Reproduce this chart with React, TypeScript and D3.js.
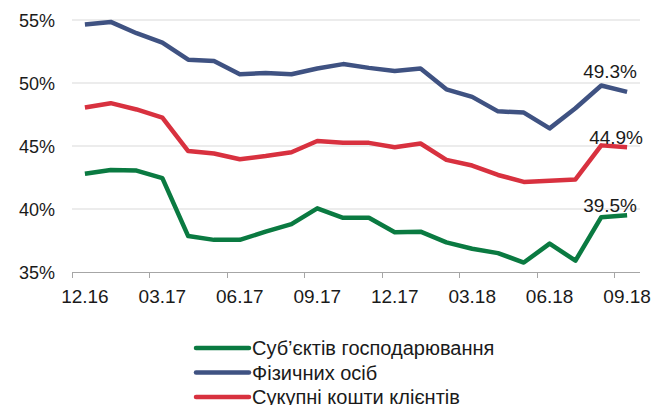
import React, { useEffect, useRef } from "react";
import * as d3 from "d3";

// months on the category axis
const months = [
  "12.16", "01.17", "02.17", "03.17", "04.17", "05.17", "06.17", "07.17", "08.17", "09.17", "10.17",
  "11.17", "12.17", "01.18", "02.18", "03.18", "04.18", "05.18", "06.18", "07.18", "08.18", "09.18",
];
const tickMonths = ["12.16", "03.17", "06.17", "09.17", "12.17", "03.18", "06.18", "09.18"];
const yTicks = [35, 40, 45, 50, 55];

const business = [
  42.8, 43.1, 43.05, 42.45, 37.85, 37.55, 37.55, 38.2, 38.8, 40.05, 39.3,
  39.3, 38.15, 38.2, 37.35, 36.85, 36.5, 35.75, 37.25, 35.9, 39.35, 39.5,
];
const individuals = [
  54.65, 54.85, 53.95, 53.2, 51.85, 51.75, 50.7, 50.8, 50.7, 51.15, 51.5,
  51.2, 50.95, 51.15, 49.5, 48.9, 47.75, 47.65, 46.4, 48.0, 49.8, 49.3,
];
const total = [
  48.05, 48.4, 47.9, 47.25, 44.6, 44.4, 43.95, 44.2, 44.5, 45.4, 45.25,
  45.25, 44.9, 45.2, 43.9, 43.45, 42.7, 42.15, 42.25, 42.35, 45.05, 44.9,
];

const seriesNames = ["Суб’єктів господарювання", "Фізичних осіб", "Сукупні кошти клієнтів"];
const lastLabels = ["39.5%", "49.3%", "44.9%"];

const COLORS = ["#0a7a41", "#3f5282", "#d8313f"];
const FONT = "'Liberation Sans', Arial, sans-serif";

export default function App() {
  const ref = useRef<SVGSVGElement | null>(null);

  useEffect(() => {
    const svg = d3.select(ref.current);
    svg.selectAll("*").remove();

    const left = 72, right = 640, top = 20, bottom = 272;

    const x = d3.scaleBand().domain(months).range([left, right]);
    const y = d3.scaleLinear().domain([35, 55]).range([bottom, top]);

    // gridlines
    svg.append("g")
      .selectAll("line")
      .data(yTicks.filter(d => d > 35))
      .enter()
      .append("line")
      .attr("x1", left)
      .attr("x2", right)
      .attr("y1", d => y(d))
      .attr("y2", d => y(d))
      .attr("stroke", "#d9d9d9")
      .attr("stroke-width", 1);

    // y labels
    svg.append("g")
      .selectAll("text")
      .data(yTicks)
      .enter()
      .append("text")
      .attr("x", 55)
      .attr("y", d => y(d) + 1)
      .attr("dy", "0.35em")
      .attr("text-anchor", "end")
      .style("font-family", FONT)
      .style("font-size", "18px")
      .attr("fill", "#1a1a1a")
      .text(d => d + "%");

    // x axis
    svg.append("line")
      .attr("x1", left)
      .attr("x2", right)
      .attr("y1", bottom + 0.5)
      .attr("y2", bottom + 0.5)
      .attr("stroke", "#a6a6a6");

    svg.append("g")
      .selectAll("line")
      .data(tickMonths)
      .enter()
      .append("line")
      .attr("x1", d => Math.round(x(d)!) + 0.5)
      .attr("x2", d => Math.round(x(d)!) + 0.5)
      .attr("y1", bottom)
      .attr("y2", bottom + 6)
      .attr("stroke", "#a6a6a6");

    svg.append("g")
      .selectAll("text")
      .data(tickMonths)
      .enter()
      .append("text")
      .attr("x", d => x(d)! + x.bandwidth() / 2)
      .attr("y", 303)
      .attr("text-anchor", "middle")
      .style("font-family", FONT)
      .style("font-size", "19px")
      .attr("fill", "#1a1a1a")
      .text(d => d);

    // lines
    const data = [business, individuals, total];
    const line = d3.line<number>()
      .x((_, i) => x(months[i])! + x.bandwidth() / 2)
      .y(d => y(d));

    [0, 2, 1].forEach(k => {
      svg.append("path")
        .datum(data[k])
        .attr("d", line)
        .attr("fill", "none")
        .attr("stroke", COLORS[k])
        .attr("stroke-width", 4.5)
        .attr("stroke-linejoin", "round");
    });

    // last value labels
    const labelY = [212, 78, 144];
    data.forEach((_, k) => {
      svg.append("text")
        .attr("x", k === 2 ? 643 : 637)
        .attr("y", labelY[k])
        .attr("text-anchor", "end")
        .style("font-family", FONT)
        .style("font-size", "19px")
        .attr("fill", "#1a1a1a")
        .text(lastLabels[k]);
    });

    // legend
    const legend = svg.append("g");
    seriesNames.forEach((name, k) => {
      const ly = 348 + k * 24.5;
      legend.append("line")
        .attr("x1", 196)
        .attr("x2", 249)
        .attr("y1", ly)
        .attr("y2", ly)
        .attr("stroke", COLORS[k])
        .attr("stroke-width", 4.5)
        .attr("stroke-linecap", "round");
      legend.append("text")
        .attr("x", 252)
        .attr("y", ly)
        .attr("dy", "0.35em")
        .style("font-family", FONT)
        .style("font-size", "20px")
        .attr("fill", "#1a1a1a")
        .text(name);
    });
  }, []);

  return (
    <svg
      ref={ref}
      width={665}
      height={405}
      style={{ position: "absolute", left: 0, top: 0, background: "#fff" }}
    />
  );
}
